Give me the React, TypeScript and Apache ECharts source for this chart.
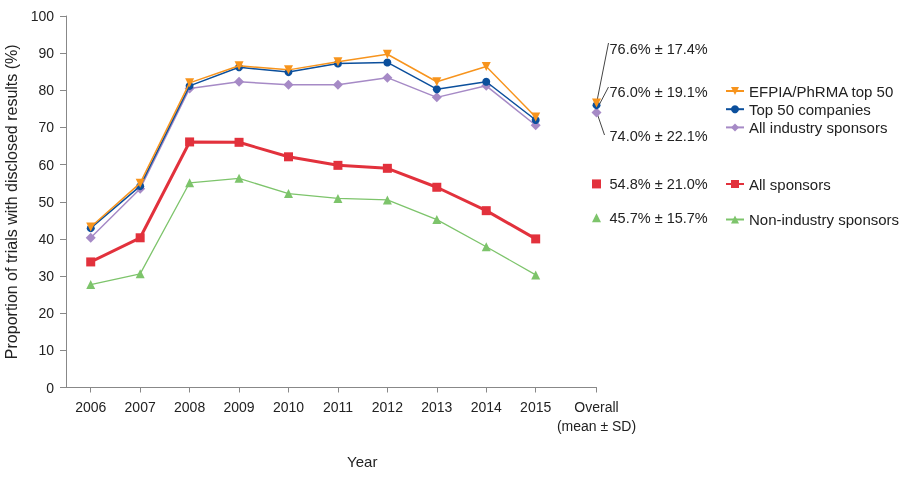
import React, { useEffect, useRef } from "react";
import * as echarts from "echarts";

const years = [2006, 2007, 2008, 2009, 2010, 2011, 2012, 2013, 2014, 2015];
const overallX = 2016.23;
const efpia = [43.2, 55.0, 82.0, 86.6, 85.5, 87.7, 89.7, 82.3, 86.4, 72.8];
const top50 = [42.9, 54.2, 81.2, 86.2, 84.9, 87.2, 87.5, 80.3, 82.3, 72.0];
const allIndustry = [40.3, 53.5, 80.5, 82.3, 81.5, 81.5, 83.4, 78.1, 81.2, 70.6];
const allSponsors = [33.8, 40.3, 66.1, 66.0, 62.1, 59.8, 59.0, 53.9, 47.6, 40.0];
const nonIndustry = [27.7, 30.6, 55.1, 56.3, 52.2, 50.9, 50.5, 45.2, 37.9, 30.3];
const overallMeans = [76.6, 76.0, 74.0, 54.8, 45.7];
const overallLabels = ["76.6% ± 17.4%", "76.0% ± 19.1%", "74.0% ± 22.1%", "54.8% ± 21.0%", "45.7% ± 15.7%"];
const names = ["EFPIA/PhRMA top 50", "Top 50 companies", "All industry sponsors", "All sponsors", "Non-industry sponsors"];
const yTicks = [0, 10, 20, 30, 40, 50, 60, 70, 80, 90, 100];

const FONT = "'Liberation Sans', Arial, sans-serif";
const TXT = "#222";

export default function App() {
  const ref = useRef<HTMLDivElement>(null);
  useEffect(() => {
    if (!ref.current) return;
    const chart = echarts.init(ref.current, undefined, { renderer: "svg" });
    const pair = (arr: number[]) => arr.map((v, i) => [years[i], v]);
    const styles = [
      { color: "#F7941D", symbol: "triangle", rotate: 180, size: 9, width: 1.5, z: 6 },
      { color: "#0B4F9C", symbol: "circle", rotate: 0, size: 8, width: 1.5, z: 5 },
      { color: "#A68AC6", symbol: "diamond", rotate: 0, size: 10, width: 1.5, z: 3 },
      { color: "#E2313C", symbol: "rect", rotate: 0, size: 9, width: 3, z: 4 },
      { color: "#7DC46B", symbol: "triangle", rotate: 0, size: 9, width: 1.3, z: 2 },
    ];
    const datas = [efpia, top50, allIndustry, allSponsors, nonIndustry];
    const lineSeries: any[] = datas.map((d, i) => ({
      name: names[i],
      type: "line",
      data: pair(d),
      z: styles[i].z,
      clip: false,
      symbol: styles[i].symbol,
      symbolRotate: styles[i].rotate,
      symbolSize: styles[i].size,
      itemStyle: { color: styles[i].color },
      lineStyle: { color: styles[i].color, width: styles[i].width },
    }));
    const overallSeries: any[] = overallMeans.map((m, i) => ({
      name: "overall-" + i,
      type: "scatter",
      data: [[overallX, m]],
      z: styles[i].z,
      clip: false,
      symbol: styles[i].symbol,
      symbolRotate: styles[i].rotate,
      symbolSize: styles[i].size,
      itemStyle: { color: styles[i].color, opacity: 1 },
    }));
    const legendBase = {
      orient: "vertical",
      left: 720,
      itemWidth: 18,
      itemHeight: 10,
      itemGap: 1.2,
      textStyle: { fontFamily: FONT, fontSize: 15, color: TXT, lineHeight: 17 },
    };
    chart.setOption({
      animation: false,
      textStyle: { fontFamily: FONT },
      grid: { left: 66, right: 902 - 596.5, top: 16, bottom: 89.5, outerBoundsMode: "none", containLabel: false },
      legend: [
        { ...legendBase, top: 77.5, data: names.slice(0, 3) },
        { ...legendBase, top: 170.5, data: [names[3]] },
        { ...legendBase, top: 206, data: [names[4]] },
      ],
      xAxis: {
        type: "value",
        min: 2005.5,
        max: overallX,
        name: "Year",
        nameLocation: "middle",
        nameGap: 66,
        nameTextStyle: { fontFamily: FONT, fontSize: 15, color: TXT, padding: [0, 0, 0, 62] },
        splitLine: { show: false },
        axisLine: { show: true, lineStyle: { color: "#888", width: 1 } },
        axisTick: { show: true, length: 5, lineStyle: { color: "#888" }, customValues: [...years, overallX] },
        axisLabel: {
          fontFamily: FONT,
          fontSize: 14,
          color: TXT,
          margin: 10,
          lineHeight: 19,
          customValues: [...years, overallX],
          formatter: (v: number) => (v > 2015.5 ? "Overall\n(mean ± SD)" : String(Math.round(v))),
        },
      },
      yAxis: {
        type: "value",
        min: 0,
        max: 100,
        interval: 10,
        name: "Proportion of trials with disclosed results (%)",
        nameLocation: "middle",
        nameGap: 38,
        nameTextStyle: { fontFamily: FONT, fontSize: 16, color: TXT },
        splitLine: { show: false },
        axisLine: { show: true, lineStyle: { color: "#888", width: 1 } },
        axisTick: { show: true, length: 6, lineStyle: { color: "#888" } },
        axisLabel: {
          fontFamily: FONT,
          fontSize: 14,
          color: TXT,
          margin: 12,
          formatter: (v: number) => (yTicks.includes(v) ? String(v) : ""),
        },
      },
      series: [...lineSeries, ...overallSeries],
    });

    const px = (v: number) => chart.convertToPixel({ xAxisIndex: 0, yAxisIndex: 0 }, [overallX, v]) as number[];
    const p0 = px(overallMeans[0]);
    const p1 = px(overallMeans[1]);
    const p2 = px(overallMeans[2]);
    const p3 = px(overallMeans[3]);
    const p4 = px(overallMeans[4]);
    const textX = p0[0] + 13;
    const labelYs = [49, 92, 136, p3[1], p4[1]];
    const lineStyle = { stroke: "#444", lineWidth: 1 };
    chart.setOption({
      graphic: [
        ...overallLabels.map((t, i) => ({
          type: "text",
          x: textX,
          y: labelYs[i],
          style: { text: t, fontFamily: FONT, fontSize: 14.5, fill: TXT, verticalAlign: "middle", align: "left" },
        })),
        { type: "line", z: 1, shape: { x1: p0[0] + 0.5, y1: p0[1] - 2, x2: textX - 1, y2: 43 }, style: lineStyle },
        { type: "line", z: 1, shape: { x1: p1[0] + 3, y1: p1[1] - 1, x2: textX - 1, y2: 87 }, style: lineStyle },
        { type: "line", z: 1, shape: { x1: p2[0] + 1, y1: p2[1] + 2, x2: textX - 5, y2: 135 }, style: lineStyle },
      ],
    });
    return () => chart.dispose();
  }, []);
  return <div ref={ref} style={{ position: "fixed", left: 0, top: 0, width: 902, height: 477 }} />;
}
